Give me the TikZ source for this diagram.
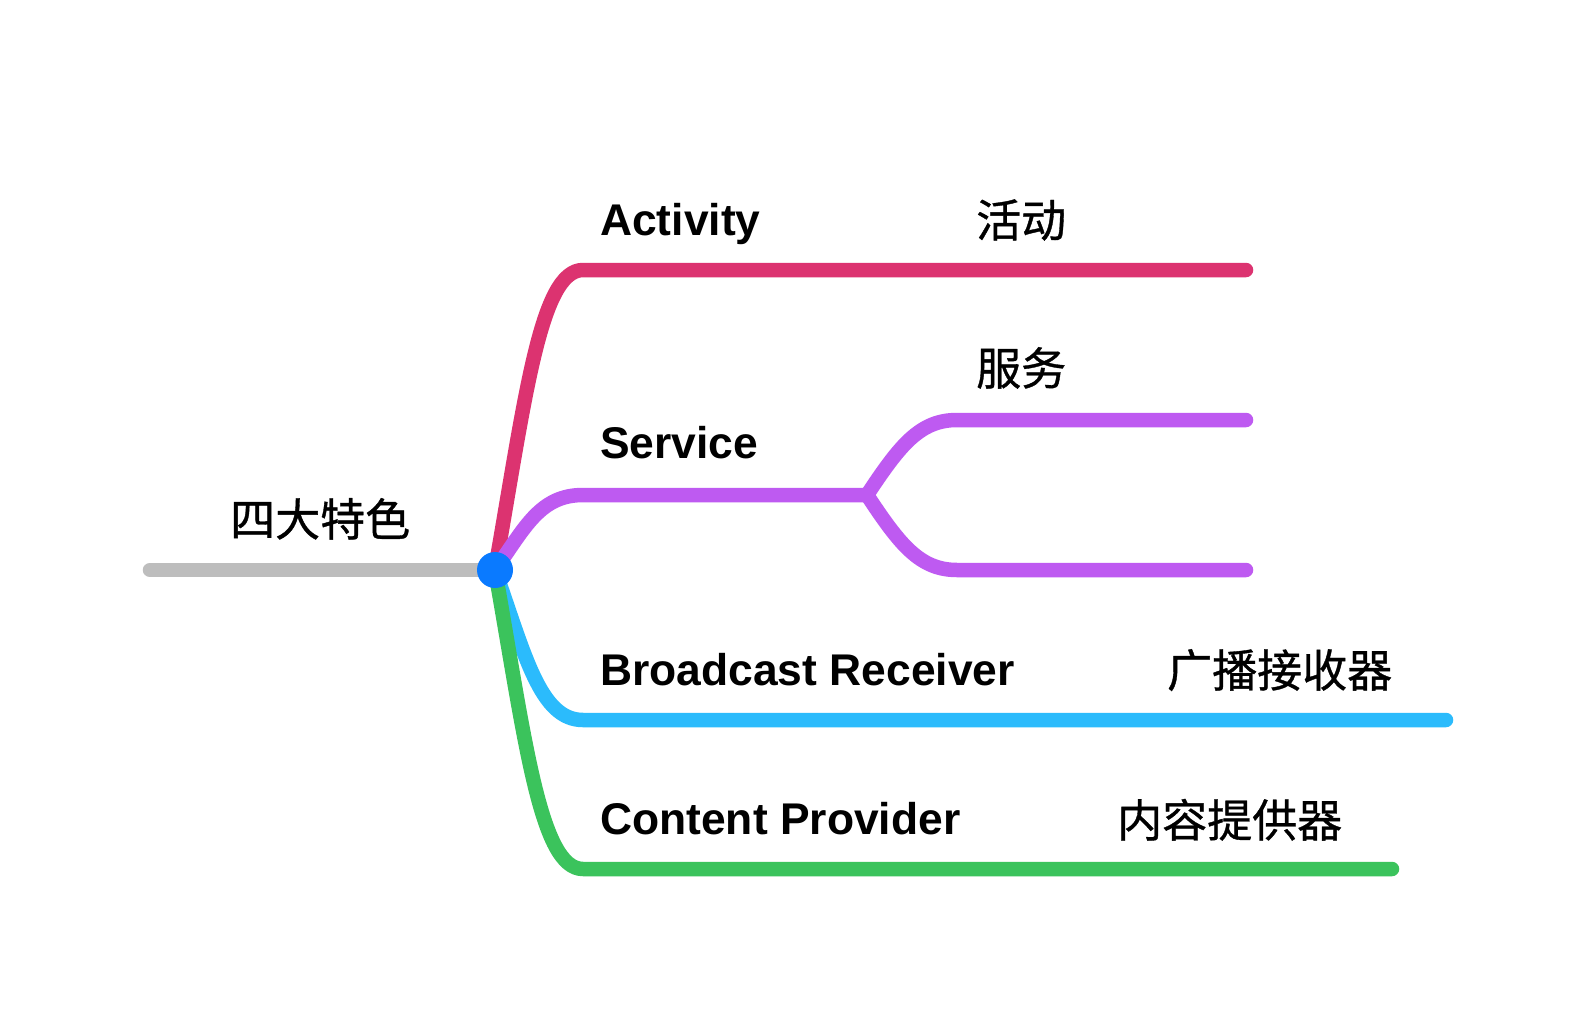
\documentclass[tikz,border=0pt]{standalone}
\usepackage{fontspec}
\newfontfamily\lat{Liberation Sans}
\newfontfamily\cjk[FakeBold=0.8]{Noto Sans CJK SC}
\definecolor{cpink}{HTML}{DC3370}
\definecolor{cpurple}{HTML}{BE5AF1}
\definecolor{cblue}{HTML}{2BBBFC}
\definecolor{cgreen}{HTML}{3BC35C}
\definecolor{cgrey}{HTML}{BDBDBD}
\definecolor{cdot}{HTML}{0A7AFF}
\begin{document}
\begin{tikzpicture}[x=1pt,y=-1pt,
  branch/.style={line width=14.5pt, line cap=round, line join=round},
  lbl/.style={anchor=base west, inner sep=0pt, font=\lat\bfseries\fontsize{44.4}{50}\selectfont},
  clbl/.style={anchor=base west, inner sep=0pt, font=\cjk\fontsize{45}{50}\selectfont}]
\useasboundingbox (0,0) rectangle (1591,1020);
\fill[white] (0,0) rectangle (1591,1020);
% coordinates
\coordinate (rs) at (150,570);
\coordinate (hub) at (495,570);
\coordinate (aC) at (583,270);  \coordinate (aE) at (1246,270);
\coordinate (sC) at (583,495);  \coordinate (sJ) at (867,495);
\coordinate (s1C) at (957,420); \coordinate (s1E) at (1246,420);
\coordinate (s2C) at (957,570); \coordinate (s2E) at (1246,570);
\coordinate (bC) at (583,720);  \coordinate (bE) at (1446,720);
\coordinate (cC) at (583,869);  \coordinate (cE) at (1392,869);
% connectors
\draw[branch, cgrey] (rs) -- (hub);
\draw[branch, cblue] (hub) .. controls +(30,85) and +(-43,0) .. (bC) -- (bE);
\draw[branch, cgreen] (hub) .. controls +(30,169.5) and +(-43,0) .. (cC) -- (cE);
\draw[branch, cpink] (hub) .. controls +(30,-170) and +(-43,0) .. (aC) -- (aE);
\draw[branch, cpurple] (hub) .. controls +(30,-42.5) and +(-43,0) .. (sC) -- (sJ);
\draw[branch, cpurple] (sJ) .. controls +(33,-50) and +(-37,0) .. (s1C) -- (s1E);
\draw[branch, cpurple] (sJ) .. controls +(33,50) and +(-37,0) .. (s2C) -- (s2E);
\node[circle, fill=cdot, minimum size=36pt, inner sep=0pt] (hubdot) at (hub) {};
% labels
\node[clbl] (root) at (230,536) {四大特色};
\node[lbl] (act) at (600,235) {Activity};
\node[clbl] (actz) at (976,237) {活动};
\node[lbl] (svc) at (600,458) {Service};
\node[clbl] (svcz) at (976,385) {服务};
\node[lbl] (brc) at (600,685) {Broadcast Receiver};
\node[clbl] (brcz) at (1167,687) {广播接收器};
\node[lbl] (cp) at (600,834) {Content Provider};
\node[clbl] (cpz) at (1117,837) {内容提供器};
\end{tikzpicture}
\end{document}
